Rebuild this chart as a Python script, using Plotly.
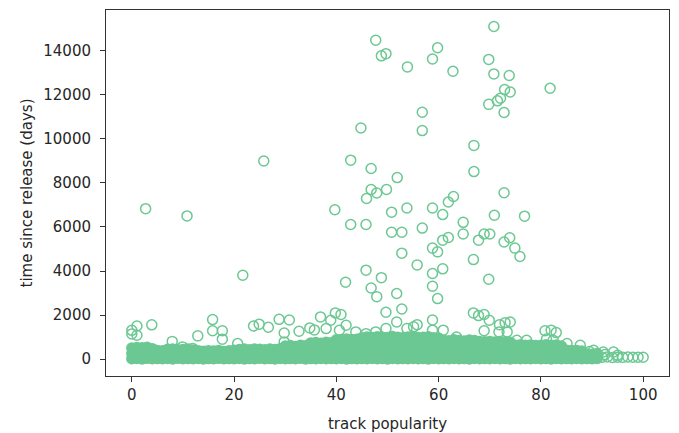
import plotly.graph_objects as go

# Tracks in the dense low band (popularity -> days since release values)
core_popularity = list(range(0, 92))
core_days = [
    [20, 260, 510], [35, 280, 530], [15, 300, 520], [40, 270, 540], [25, 290, 480],
    [30, 250, 400], [20, 280, 390], [35, 260, 450], [15, 300, 470], [40, 250, 430],
    [20, 280, 440], [30, 270, 460], [25, 290, 420], [35, 260, 380], [15, 280, 360],
    [30, 300, 390], [20, 250, 370], [40, 290, 400], [25, 270, 350], [30, 280, 380],
    [20, 300, 410], [35, 260, 440], [15, 290, 460], [30, 270, 430], [25, 300, 470],
    [40, 260, 450], [20, 280, 430], [30, 300, 460], [15, 270, 440], [35, 290, 480],
    [25, 280, 540, 600], [30, 300, 560, 620], [20, 270, 530, 580], [40, 290, 550, 640],
    [15, 280, 520, 610], [30, 260, 510, 740], [25, 300, 540, 760], [35, 280, 520, 730],
    [20, 290, 550, 770], [30, 270, 530, 750],
    [25, 280, 540, 780, 880], [35, 300, 560, 800, 900], [15, 270, 520, 760, 920],
    [30, 290, 550, 790, 890], [20, 260, 530, 770, 910], [30, 280, 540, 790, 980],
    [25, 300, 560, 800, 1010], [35, 270, 530, 780, 990], [20, 290, 550, 810, 1020],
    [30, 280, 520, 770, 1000], [15, 260, 540, 800, 990], [35, 300, 560, 790, 1030],
    [25, 270, 530, 780, 1000], [30, 290, 550, 810, 980], [20, 280, 540, 770, 1010],
    [35, 260, 520, 800, 1040], [25, 300, 560, 790, 990], [30, 270, 530, 780, 1000],
    [15, 290, 550, 810, 1020], [35, 280, 540, 770, 980], [25, 260, 520, 800, 960],
    [30, 300, 560, 790, 860], [20, 270, 530, 780, 840], [35, 290, 550, 810, 880],
    [25, 280, 540, 770, 850], [30, 260, 520, 800, 830], [15, 300, 560, 790, 870],
    [35, 270, 530, 780, 850],
    [25, 290, 550, 800], [30, 280, 540, 790], [20, 260, 520, 810], [35, 300, 560, 780],
    [25, 270, 530, 800], [30, 290, 550, 790], [15, 280, 540, 770],
    [35, 260, 500, 640], [25, 300, 520, 660], [30, 270, 490, 630], [20, 290, 510, 650],
    [35, 280, 500, 620], [25, 260, 480, 640], [30, 300, 520, 660], [15, 270, 490, 630],
    [35, 290, 510, 650], [25, 280, 500, 600],
    [30, 260, 410], [20, 290, 390], [35, 270, 400], [25, 250, 370],
    [30, 240], [20, 230], [35, 210],
]

# Individually visible tracks
popularity = [
    70.8, 47.7, 59.8, 48.8, 49.7, 53.9, 58.8, 62.8, 69.8, 70.8,
    73.8, 72.9, 74.0, 81.8, 71.5, 72.1, 69.8, 72.8, 56.8, 56.8,
    44.8, 66.9, 25.8, 42.8, 46.8, 66.9, 51.9, 46.8, 47.9, 45.9,
    49.8, 72.8, 2.7, 10.8, 39.7, 42.8, 45.8, 50.8, 53.8, 58.8,
    60.8, 61.9, 62.9, 70.9, 76.8, 50.8, 52.8, 56.8, 64.8, 64.8,
    67.8, 68.9, 70.0, 72.8, 73.9, 74.9, 75.9, 58.8, 59.8, 60.8,
    61.9, 52.8, 55.8, 58.8, 60.8, 66.8, 69.8, 45.8, 48.8, 41.8,
    21.7, 46.8, 47.9, 51.8, 58.8, 59.8, 49.7, 52.8, 51.8, 55.8,
    58.8, 66.8, 67.8, 68.9, 69.9, 71.9, 73.0, 74.0, 36.9, 38.9,
    39.8, 40.9, 3.9, 7.9, 12.9, 15.8, 15.8, 17.7, 17.7, 23.8,
    24.9, 26.7, 28.8, 30.8, 29.8, 32.7, 34.8, 35.7, 0.0, 0.0,
    1.0, 1.0, 9.9, 11.9, 20.7, 29.8, 38.0, 40.6, 41.9, 43.8,
    45.8, 47.7, 49.7, 53.8, 55.1, 58.8, 60.9, 63.5, 68.9, 71.8,
    73.4, 75.3, 77.2, 80.8, 82.0, 83.0, 81.1, 82.4, 85.1, 87.7,
    90.3, 92.2, 94.2, 86.0, 88.0, 89.5, 91.0,
    92.0, 93.0, 94.0, 95.0, 96.0, 97.0, 98.0, 99.0, 100.0, 92.5, 95.0,
]
days = [
    15090, 14470, 14130, 13760, 13860, 13260, 13620, 13060, 13600, 12940,
    12870, 12230, 12120, 12290, 11720, 11840, 11560, 11190, 11200, 10370,
    10490, 9700, 8990, 9030, 8650, 8510, 8240, 7700, 7540, 7290,
    7700, 7550, 6830, 6500, 6780, 6110, 6110, 6670, 6860, 6860,
    6560, 7130, 7380, 6530, 6490, 5760, 5760, 5950, 6210, 5680,
    5400, 5680, 5680, 5320, 5510, 5040, 4660, 5040, 4870, 5400,
    5520, 4810, 4280, 3890, 4100, 4520, 3630, 4040, 3700, 3490,
    3810, 3230, 2840, 2980, 3310, 2750, 2130, 2280, 1690, 1570,
    1780, 2100, 1980, 2030, 1770, 1570, 1660, 1690, 1920, 1770,
    2100, 2030, 1560, 810, 1060, 1800, 1290, 1290, 910, 1510,
    1590, 1450, 1810, 1780, 1190, 1270, 1420, 1330, 1310, 1150,
    1510, 1090, 560, 490, 710, 785, 1390, 1315, 1540, 1240,
    1160, 1240, 1390, 1390, 1470, 1320, 1320, 1010, 1290, 1240,
    1240, 860, 860, 1290, 1320, 1210, 920, 860, 710, 635,
    410, 330, 330, 380, 300, 350, 260,
    90, 100, 80, 95, 85, 100, 90, 95, 90, 220, 180,
]

x_ticks = [0, 20, 40, 60, 80, 100]
y_ticks = [0, 2000, 4000, 6000, 8000, 10000, 12000, 14000]

GREEN = "rgb(108,200,146)"
TEXT = "#262626"

core_x = [p for p, col in zip(core_popularity, core_days) for _ in col]
core_y = [d for col in core_days for d in col]

fig = go.Figure()
fig.add_trace(go.Scatter(
    x=core_x, y=core_y, mode="markers",
    marker=dict(symbol="circle", size=11.5, color=GREEN, line=dict(width=0)),
    hoverinfo="skip", showlegend=False,
))
fig.add_trace(go.Scatter(
    x=popularity, y=days, mode="markers",
    marker=dict(symbol="circle-open", size=10, color=GREEN, line=dict(width=1.5, color=GREEN)),
    showlegend=False,
))

axis_common = dict(
    showgrid=False, zeroline=False, showline=True, linecolor="#333333", linewidth=1,
    mirror=True, ticks="outside", ticklen=5, tickwidth=1, tickcolor="#333333",
    tickfont=dict(family="DejaVu Sans", size=15, color=TEXT), automargin=False,
)

fig.update_layout(
    width=679, height=433,
    margin=dict(l=106, r=10, t=10, b=57),
    paper_bgcolor="white", plot_bgcolor="white",
    xaxis=dict(
        range=[-5.05, 105.05], tickmode="array", tickvals=x_ticks,
        ticktext=[str(v) for v in x_ticks],
        title=dict(text="track popularity", font=dict(family="DejaVu Sans", size=15, color=TEXT), standoff=18),
        **axis_common,
    ),
    yaxis=dict(
        range=[-760, 15840], tickmode="array", tickvals=y_ticks,
        ticktext=[str(v) for v in y_ticks], ticklabelstandoff=6,
        title=dict(text="time since release (days)", font=dict(family="DejaVu Sans", size=15, color=TEXT), standoff=7),
        **axis_common,
    ),
)

fig.write_html("out.html")
